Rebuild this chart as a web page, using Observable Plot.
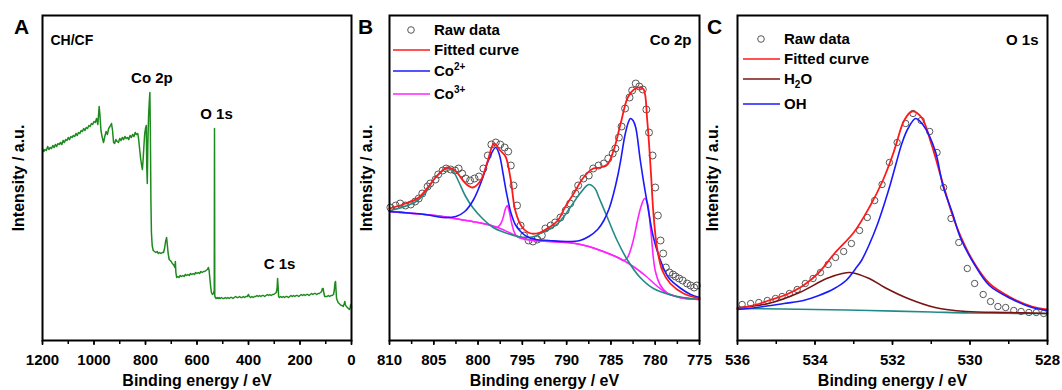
<!DOCTYPE html>
<html><head><meta charset="utf-8">
<script src="https://cdn.jsdelivr.net/npm/d3@7"></script>
<script src="https://cdn.jsdelivr.net/npm/@observablehq/plot@0.6"></script>
<style>
body{margin:0;background:#fff;}
#fig{position:relative;width:1062px;height:390px;overflow:hidden;}
#fig svg{position:absolute;top:0;overflow:visible;}
</style></head><body><div id="fig"></div>
<script>
// ---------- Panel A: survey spectrum (binding energy eV, intensity a.u.) ----------
const surveyPts = [[1200,192],[1195,189],[1190,191],[1185,190],[1180,194],[1175,191],[1170,193],[1165,192],[1160,195],[1155,193],[1150,196],[1145,194],[1140,197],[1135,196],[1130,198],[1125,196],[1120,200],[1115,198],[1110,201],[1105,200],[1100,203],[1095,201],[1090,204],[1085,203],[1080,205],[1075,204],[1070,207],[1065,205],[1060,208],[1055,207],[1050,210],[1045,209],[1040,212],[1035,210],[1030,213],[1025,212],[1020,215],[1015,214],[1010,217],[1005,216],[1000,219],[995,218],[990,222],[985,216],[980,234],[977,226],[973,210],[968,203],[963,198],[958,204],[953,209],[948,206],[943,212],[938,214],[932,217],[928,210],[924,198],[920,197],[915,201],[910,199],[905,198],[900,202],[895,200],[890,203],[885,201],[880,204],[875,202],[870,203],[865,201],[860,205],[855,203],[850,206],[845,204],[840,208],[835,206],[830,207],[827,202],[823,192],[819,182],[815,175],[812,171],[809,182],[806,195],[803,207],[800,212],[797,215],[795,172],[793,157],[791,195],[788,225],[785,240],[783,248],[781,205],[779,140],[777,108],[774,95],[770,90],[765,89],[760,88],[755,89],[750,87],[745,88],[740,87],[735,88],[730,88],[726,92],[722,99],[718,103],[715,95],[712,87],[708,81],[704,80],[700,79],[696,77],[692,76],[689,75],[686,73],[684,79],[682,68],[679,63],[675,64],[670,63],[665,65],[660,64],[655,65],[650,64],[645,66],[640,65],[635,66],[630,65],[625,67],[620,66],[615,67],[610,66],[605,68],[600,67],[595,68],[590,67],[585,69],[580,68],[575,69],[570,69],[565,70],[560,71],[556,73],[553,70],[550,62],[547,54],[544,48],[540,46],[536,47],[533,50],[532,212],[531,45],[529,43],[526,42],[522,43],[518,42],[514,43],[510,42],[505,43],[500,42],[495,42],[490,43],[485,42],[480,43],[475,42],[470,43],[465,43],[460,42],[455,43],[450,44],[445,43],[440,43],[435,44],[430,43],[425,43],[420,44],[415,43],[410,44],[405,44],[400,46],[397,44],[392,43],[387,44],[382,43],[377,44],[372,44],[367,45],[362,44],[357,45],[352,44],[347,45],[342,45],[337,44],[332,45],[327,46],[322,45],[317,46],[312,45],[307,46],[302,46],[297,47],[292,48],[289,52],[287,62],[285,54],[283,44],[280,43],[275,44],[270,43],[265,44],[260,43],[255,44],[250,44],[245,43],[240,44],[235,45],[230,44],[225,45],[220,44],[215,45],[210,45],[205,44],[200,45],[195,46],[190,45],[185,46],[180,45],[175,46],[170,46],[165,45],[160,46],[155,47],[150,46],[145,47],[140,47],[135,46],[130,47],[125,47],[120,48],[116,49],[113,52],[110,52],[107,47],[104,44],[100,44],[95,44],[90,45],[85,44],[80,45],[75,45],[70,46],[67,50],[64,58],[62,59],[60,50],[58,42],[55,40],[52,38],[48,37],[44,36],[40,35],[36,35],[32,34],[28,37],[26,39],[24,36],[20,34],[16,33],[12,32],[8,31],[5,33],[3,36],[1,35],[0,33]];
const surveyPeakLabels = ["Co 2p", "O 1s", "C 1s"];
const surveyPeakE = [783, 532, 287];
const surveyTicksMajor = [1200, 1000, 800, 600, 400, 200, 0];
const surveyTicksMinor = [1200,1100,1000,900,800,700,600,500,400,300,200,100,0];

// ---------- Panel B: Co 2p ----------
const co2pRaw = [[809.9,133],[809.3,135],[808.8,137],[808.2,135],[807.6,136],[807.1,139],[806.7,142],[806.3,147],[805.7,154],[805.4,157],[804.8,161],[804.5,166],[804.0,170],[803.6,172],[803.1,171],[802.6,170],[802.2,172],[801.8,167],[801.4,162],[800.9,160],[800.4,162],[799.9,164],[799.4,172],[798.9,185],[798.5,196],[798.0,198],[797.5,196],[797.0,193],[796.6,189],[796.3,175],[796.0,155],[795.6,135],[795.2,115],[794.8,105],[794.3,100],[793.8,99],[793.3,101],[792.8,105],[792.4,112],[791.8,115],[791.3,118],[790.7,123],[790.1,130],[789.6,137],[789.0,147],[788.7,155],[788.1,162],[787.5,165],[787.0,172],[786.4,175],[785.8,177],[785.3,182],[784.8,187],[784.5,192],[784.1,203],[783.8,214],[783.4,232],[782.9,243],[782.6,250],[782.2,257],[781.8,254],[781.4,251],[781.0,231],[780.7,208],[780.3,185],[780.0,153],[779.7,125],[779.4,100],[779.1,87],[778.8,73],[778.4,68],[778.0,66],[777.7,64],[777.3,62],[776.9,60],[776.4,57],[776.0,55],[775.6,53],[775.3,55]];
const co2pFit = [[810,132],[808.5,136],[806.7,143],[805.5,155],[804.8,163],[803.5,173],[802.8,171],[802.3,167],[801.4,157],[800.6,153],[799.7,160],[798.9,180],[798.2,197],[797.5,190],[796.9,184],[796.3,160],[795.8,130],[795,113],[794,107],[793,108],[792,113],[791,120],[790.2,133],[789.2,147],[788.1,163],[787,172],[786.2,173],[785.4,176],[784.7,190],[783.9,217],[783.1,243],[782.4,251],[781.7,253],[781.3,251],[780.9,220],[780.5,170],[780.2,127],[779.8,93],[779.2,70],[778.3,57],[776.8,47],[775,42]];
const co2pCo2 = [[810,129],[806,126],[804,123],[802.5,124],[801.5,129],[800.5,141],[799.5,162],[799,176],[798.5,187],[798,193],[797.6,186],[797.2,168],[796.8,148],[796.3,128],[795.8,116],[795.2,109],[794.5,104],[793.5,101],[792,100],[790,99],[788.5,100],[787.5,104],[786.5,111],[785.8,120],[785.2,132],[784.7,147],[784.2,166],[783.9,180],[783.4,206],[783,219],[782.8,222],[782.5,220],[782.2,213],[781.7,181],[781.3,158],[780.9,137],[780.2,103],[779.4,80],[778.5,63],[777.1,52],[776,46],[775,43]];
const co2pCo3 = [[810,129],[808,127.5],[806,126],[804,124],[802,121],[800,118],[798.5,115],[797.9,113],[797.5,116],[797.2,122],[796.9,132],[796.7,135],[796.5,130],[796.2,117],[795.9,108],[795.6,104],[794.5,101],[793,99.5],[791,98.5],[789,97],[787.5,94],[786,89.5],[785,86],[784,82],[783.6,80],[783.2,82],[782.8,90],[782.4,103],[782,120],[781.6,134],[781.2,142],[780.9,138],[780.5,110],[780,70],[779.4,55],[778.6,47],[778,45],[777,42.5],[776,41.5],[775,41]];
const co2pSat = [[810,130],[809,132],[808,135],[807,139],[806,147],[805.3,157],[804.5,166],[803.5,172],[802.8,169],[802.3,161],[801.4,144],[800.6,133],[799.5,122],[798.3,113],[797,108],[795.5,104],[794.3,103],[793.5,104.5],[793,107],[792,111],[791,117],[790.3,124],[789.6,133],[788.4,148],[787.5,156],[786.8,152],[786.4,144],[785.4,123],[784.3,100],[783.1,80],[781.7,63],[780.2,52],[778,45],[776,42],[775,41]];
const co2pBackground = [[810,129],[808,127.5],[806,126],[804,124],[802,121],[800,118],[798.5,115],[797.5,112],[796.5,108],[795.5,104],[794.5,101],[793,99.5],[791,98.5],[789,97],[787.5,94],[786,89.5],[785,86],[784,82],[783,77],[782,71],[781,64],[780,56],[779,49],[778,45],[777,42.5],[776,41.5],[775,41]];
const co2pTicksMajor = [810, 805, 800, 795, 790, 785, 780, 775];
const co2pTicksMinor = [810,807.5,805,802.5,800,797.5,795,792.5,790,787.5,785,782.5,780,777.5,775];

// ---------- Panel C: O 1s ----------
const o1sRaw = [[535.88,36],[535.66,37],[535.45,38],[535.23,40],[535.02,42],[534.85,44],[534.66,47],[534.46,51],[534.25,57],[534.05,62],[533.86,68],[533.66,76],[533.47,83],[533.26,89],[533.06,97],[532.85,110],[532.65,123],[532.46,140],[532.27,156],[532.08,178],[531.88,198],[531.66,217],[531.47,227],[531.26,220],[531.04,209],[530.85,188],[530.68,153],[530.49,122],[530.29,98],[530.07,72],[529.88,57],[529.66,46],[529.47,39],[529.28,34],[529.08,33],[528.87,30],[528.68,29],[528.48,28],[528.29,28],[528.10,27]];
const o1sFit = [[536,32],[535.5,36],[535.2,40],[534.8,45],[534.3,55],[533.9,68],[533.5,87],[533.0,108],[532.6,133],[532.25,160],[532.0,185],[531.9,197],[531.7,220],[531.5,229],[531.25,223],[531.0,197],[530.7,157],[530.45,125],[530.25,105],[529.9,78],[529.5,57],[528.95,43],[528.4,34],[528.0,31]];
const o1sOH = [[536,31],[535.5,33],[534.8,37],[534.3,40],[533.9,45],[533.5,52],[533.2,60],[532.95,72],[532.8,80],[532.6,96],[532.4,115],[532.2,138],[532.05,157],[531.9,178],[531.75,198],[531.6,212],[531.4,222],[531.2,215],[530.9,190],[530.7,155],[530.45,127],[530.25,103],[529.9,77],[529.5,55],[528.95,42],[528.4,33],[528.0,30]];
const o1sH2O = [[536,33],[535.2,37],[534.4,48],[533.7,62],[533.3,67],[533.1,68],[532.6,62],[532.2,53],[531.6,42],[530.9,33],[530.1,29],[529,28],[528,27]];
const o1sBase = [[536,32],[534,31],[532.6,30],[531,28.5],[530,27.5],[528,27]];
const o1sTicksMajor = [536, 534, 532, 530, 528];
const o1sTicksMinor = [536,535,534,533,532,531,530,529,528];

// ---------- colours ----------
const GREEN = "#1e8a1e", RED = "#ff1a1a", BLUE = "#1a1aff", MAGENTA = "#ff22ff", TEAL = "#218a86", BROWN = "#7a1414", RAW = "#555";
const FONT = 'Arial, "Liberation Sans", Helvetica, sans-serif';

const fig = document.getElementById("fig");
const X = d => d[0], Y = d => d[1];

function panel(o) {
  const marks = [
    ...o.marks,
    Plot.frame({stroke: "#000", strokeWidth: 2}),
    Plot.axisX({ticks: o.minor, tickSize: 4, tickFormat: () => "", strokeWidth: 1.5, label: null}),
    Plot.axisX({ticks: o.major, tickSize: 5, tickPadding: 9, tickFormat: d => String(d), strokeWidth: 1.5, label: null, fontSize: 15}),
    Plot.text(["Binding energy / eV"], {text: d => d, frameAnchor: "bottom", dy: 40, textAnchor: "middle", lineAnchor: "middle", fontSize: 16}),
    Plot.text(["Intensity / a.u."], {text: d => d, frameAnchor: "left", dx: o.yDx, rotate: -90, textAnchor: "middle", lineAnchor: "middle", fontSize: 16}),
    Plot.text([o.letter], {text: d => d, frameAnchor: "top-left", dx: o.letterDx, dy: 12, textAnchor: "middle", lineAnchor: "middle", fontSize: 21})
  ];
  const svg = Plot.plot({
    width: o.width, height: 390,
    marginLeft: o.marginLeft, marginRight: o.marginRight, marginTop: 15, marginBottom: 50,
    x: {domain: o.domain},
    y: {domain: [0, 325], axis: null},
    style: {fontFamily: FONT, fontWeight: "bold", fontSize: "15px", color: "#000", background: "transparent", overflow: "visible"},
    marks
  });
  svg.style.left = o.left + "px";
  fig.append(svg);
}

// Panel A
const surveyLabelRows = surveyPeakLabels.map((t, i) => {
  const pt = surveyPts.find(p => p[0] === surveyPeakE[i]);
  return {t, e: pt[0], v: pt[1]};
});
panel({
  left: 0, width: 354, marginLeft: 42, marginRight: 3, domain: [1200, 0],
  major: surveyTicksMajor, minor: surveyTicksMinor, letter: "A", letterDx: -21, yDx: -24,
  marks: [
    Plot.line(surveyPts, {x: X, y: Y, stroke: GREEN, strokeWidth: 1.5}),
    Plot.text(surveyLabelRows, {x: "e", y: "v", text: "t", dy: -14, dx: 2, fontSize: 15}),
    Plot.text(["CH/CF"], {text: d => d, frameAnchor: "top-left", dx: 8, dy: 25, textAnchor: "start", lineAnchor: "middle", fontSize: 14})
  ]
});

// Panel B
const fitCurve = "catmull-rom";
panel({
  left: 354, width: 348, marginLeft: 35, marginRight: 3, domain: [810, 775],
  major: co2pTicksMajor, minor: co2pTicksMinor, letter: "B", letterDx: -24, yDx: -23,
  marks: [
    Plot.dot(co2pRaw, {x: X, y: Y, r: 3.5, stroke: RAW, strokeWidth: 1, fill: "none"}),
    Plot.line(co2pBackground, {x: X, y: Y, stroke: MAGENTA, strokeWidth: 1.6, curve: fitCurve}),
    Plot.line(co2pCo3, {x: X, y: Y, stroke: MAGENTA, strokeWidth: 1.6, curve: fitCurve}),
    Plot.line(co2pSat, {x: X, y: Y, stroke: TEAL, strokeWidth: 1.6, curve: fitCurve}),
    Plot.line(co2pCo2, {x: X, y: Y, stroke: BLUE, strokeWidth: 1.6, curve: fitCurve}),
    Plot.line(co2pFit, {x: X, y: Y, stroke: RED, strokeWidth: 1.8, curve: fitCurve}),
    Plot.text(["Co 2p"], {text: d => d, frameAnchor: "top-right", dx: -8, dy: 25, textAnchor: "end", lineAnchor: "middle", fontSize: 15})
  ]
});

// Panel C
panel({
  left: 702, width: 360, marginLeft: 35, marginRight: 15, domain: [536, 528],
  major: o1sTicksMajor, minor: o1sTicksMinor, letter: "C", letterDx: -23, yDx: -25,
  marks: [
    Plot.dot(o1sRaw, {x: X, y: Y, r: 3.2, stroke: RAW, strokeWidth: 1, fill: "none"}),
    Plot.line(o1sBase, {x: X, y: Y, stroke: TEAL, strokeWidth: 1.6, curve: fitCurve}),
    Plot.line(o1sH2O, {x: X, y: Y, stroke: BROWN, strokeWidth: 1.6, curve: fitCurve}),
    Plot.line(o1sFit, {x: X, y: Y, stroke: RED, strokeWidth: 1.8, curve: fitCurve}),
    Plot.line(o1sOH, {x: X, y: Y, stroke: BLUE, strokeWidth: 1.6, curve: fitCurve}),
    Plot.text(["O 1s"], {text: d => d, frameAnchor: "top-right", dx: -9, dy: 25, textAnchor: "end", lineAnchor: "middle", fontSize: 15})
  ]
});

// ---------- legends (overlay) ----------
const legendB = [
  {y: 30, kind: "dot", color: RAW, parts: [{t: "Raw data"}]},
  {y: 50, kind: "line", color: RED, parts: [{t: "Fitted curve"}]},
  {y: 71, kind: "line", color: BLUE, parts: [{t: "Co"}, {t: "2+", sup: true}]},
  {y: 94, kind: "line", color: MAGENTA, parts: [{t: "Co"}, {t: "3+", sup: true}]}
];
const legendC = [
  {y: 39, kind: "dot", color: RAW, parts: [{t: "Raw data"}]},
  {y: 59, kind: "line", color: RED, parts: [{t: "Fitted curve"}]},
  {y: 79, kind: "line", color: BROWN, parts: [{t: "H"}, {t: "2", sub: true}, {t: "O"}]},
  {y: 104, kind: "line", color: BLUE, parts: [{t: "OH"}]}
];
const ov = d3.create("svg").attr("width", 1062).attr("height", 390)
  .style("left", "0px").style("font-family", FONT).style("font-weight", "bold");
function legend(x0, items) {
  for (const it of items) {
    const g = ov.append("g").attr("transform", `translate(${x0},${it.y})`);
    if (it.kind === "dot") g.append("circle").attr("cx", 18).attr("cy", 0).attr("r", 3.3).attr("fill", "none").attr("stroke", it.color).attr("stroke-width", 1);
    else g.append("line").attr("x1", 0).attr("x2", 37).attr("y1", 0).attr("y2", 0).attr("stroke", it.color).attr("stroke-width", 1.6);
    const t = g.append("text").attr("x", 41).attr("y", 0).attr("dy", "0.36em").attr("font-size", 15).attr("fill", "#000");
    let shift = 0;
    for (const p of it.parts) {
      const s = t.append("tspan").text(p.t);
      const target = p.sup ? -6 : p.sub ? 4 : 0;
      if (target !== shift) { s.attr("dy", target - shift); shift = target; }
      if (p.sup || p.sub) s.attr("font-size", 10);
    }
  }
}
legend(393, legendB);
legend(743, legendC);
fig.append(ov.node());
</script></body></html>
